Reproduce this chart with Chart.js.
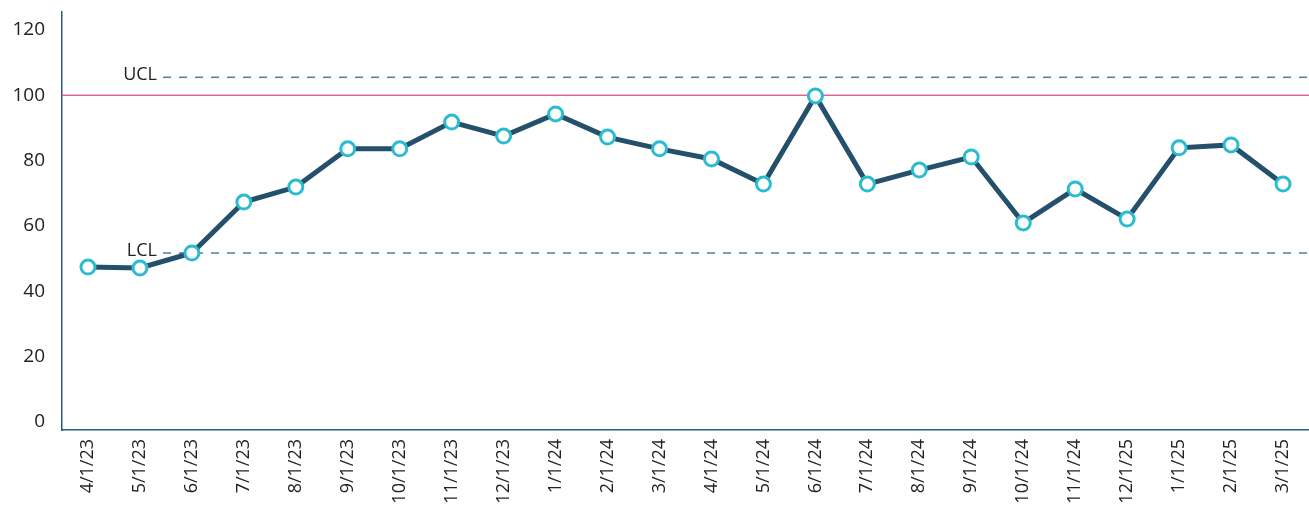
<!DOCTYPE html>
<html>
<head>
<meta charset="utf-8">
<script src="https://cdn.jsdelivr.net/npm/chart.js@4"></script>
<style>
  html, body { margin: 0; padding: 0; background: #fff; }
  #wrap { width: 1309px; height: 511px; }
</style>
</head>
<body>
<div id="wrap"><canvas id="chart" width="1309" height="511"></canvas></div>
<script>
const labels = ["4/1/23","5/1/23","6/1/23","7/1/23","8/1/23","9/1/23","10/1/23","11/1/23","12/1/23",
  "1/1/24","2/1/24","3/1/24","4/1/24","5/1/24","6/1/24","7/1/24","8/1/24","9/1/24","10/1/24",
  "11/1/24","12/1/25","1/1/25","2/1/25","3/1/25"];
const values = [47.4, 47.1, 51.7, 67.3, 71.9, 83.6, 83.6, 91.8, 87.5,
  94.3, 87.2, 83.6, 80.5, 72.8, 99.8, 72.8, 77.1, 81.1, 60.9,
  71.3, 62.1, 83.9, 84.8, 72.8];
const yTicks = [0, 20, 40, 60, 80, 100, 120];
const ucl = 105.5;
const lcl = 51.7;
const target = 100;

const limitLines = {
  id: "limitLines",
  beforeDatasetsDraw(chart) {
    const ctx = chart.ctx, a = chart.chartArea, y = chart.scales.y;
    ctx.save();
    // target
    ctx.strokeStyle = "#e0649c";
    ctx.lineWidth = 1.5;
    ctx.beginPath();
    ctx.moveTo(a.left, y.getPixelForValue(target));
    ctx.lineTo(a.right, y.getPixelForValue(target));
    ctx.stroke();
    // control limits
    const startX = a.left + 101;
    ctx.strokeStyle = "#557a92";
    ctx.setLineDash([8, 8]);
    ctx.font = "18px 'Open Sans'";
    ctx.textAlign = "right";
    ctx.textBaseline = "middle";
    [["UCL", ucl], ["LCL", lcl]].forEach(([name, v]) => {
      const py = y.getPixelForValue(v);
      ctx.beginPath();
      ctx.moveTo(startX, py);
      ctx.lineTo(a.right, py);
      ctx.stroke();
      ctx.fillStyle = "#222";
      ctx.fillText(name, startX - 6, py - 2);
    });
    ctx.restore();
  }
};

new Chart(document.getElementById("chart").getContext("2d"), {
  type: "line",
  data: {
    labels: labels,
    datasets: [{
      data: values,
      borderColor: "#24506b",
      borderWidth: 5,
      pointRadius: 7,
      pointHoverRadius: 7,
      pointBorderWidth: 3,
      pointBorderColor: "#2bbcd0",
      pointBackgroundColor: "#ffffff",
      tension: 0
    }]
  },
  options: {
    responsive: false,
    animation: false,
    layout: { autoPadding: false, padding: { top: 12, right: 0, left: 0, bottom: 0 } },
    plugins: { legend: { display: false }, tooltip: { enabled: false } },
    scales: {
      x: {
        offset: true,
        grid: { display: false, drawTicks: false },
        border: { display: true, color: "#2b5a78", width: 1.5 },
        ticks: {
          minRotation: 90, maxRotation: 90, autoSkip: false,
          padding: 9,
          color: "#222",
          font: { family: "'Open Sans'", size: 18 }
        },
        afterFit(s) { s.height = 81; s.paddingLeft = 0; s.paddingRight = 0; }
      },
      y: {
        min: -2.5, max: 125.5,
        grid: { display: false, drawTicks: false },
        border: { display: true, color: "#2b5a78", width: 1.5 },
        afterBuildTicks(s) { s.ticks = yTicks.map(v => ({ value: v })); },
        ticks: {
          padding: 17,
          color: "#222",
          font: { family: "'Open Sans'", size: 19 }
        },
        afterFit(s) { s.width = 62; s.paddingTop = 0; s.paddingBottom = 0; }
      }
    }
  },
  plugins: [limitLines]
});
</script>
</body>
</html>
